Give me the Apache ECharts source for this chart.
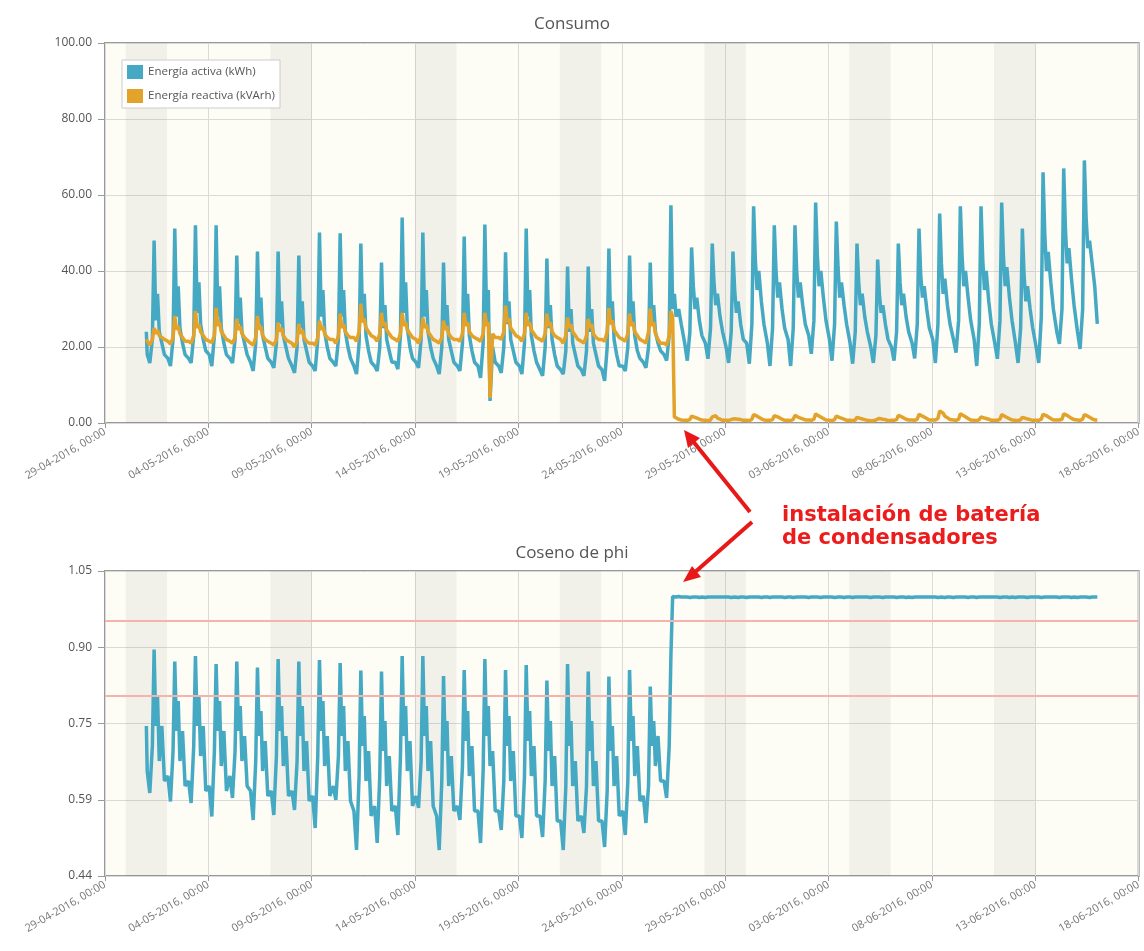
<!DOCTYPE html>
<html>
<head>
<meta charset="utf-8">
<script src="https://cdn.jsdelivr.net/npm/echarts@6/dist/echarts.min.js"></script>
<style>html,body{margin:0;padding:0;background:#fff;}#c{width:1144px;height:951px;}</style>
</head>
<body>
<div id="c"></div>
<script>
// ---------- DATA ----------
const X_LABELS = ['29-04-2016, 00:00','04-05-2016, 00:00','09-05-2016, 00:00','14-05-2016, 00:00','19-05-2016, 00:00','24-05-2016, 00:00','29-05-2016, 00:00','03-06-2016, 00:00','08-06-2016, 00:00','13-06-2016, 00:00','18-06-2016, 00:00'];
const COS_LABELS = ['0.44','0.59','0.75','0.90','1.05'];
// weekend (Sat+Sun) shaded bands, start dates
const WEEKENDS = ['2016-04-30','2016-05-07','2016-05-14','2016-05-21','2016-05-28','2016-06-04','2016-06-11'];
// one row per day, 01-05-2016 .. 15-06-2016, readings at these hours of the day
const HOURS = [1, 4, 7, 9, 11, 13, 15, 18, 21];
const FIRST_DAY = '2016-05-01';
const LAST_POINT = '2016-06-16';

// Energía activa (kWh)
const activaStart = 24.0, activaEnd = 26.1;
const activa = [
 [18,15.8,22,48.0,27,34,24,21,18],[17,15.0,22,51.2,28,36,25,21,18],[17,15.8,23,52.0,29,37,26,22,19],[18,15.0,23,52.0,28,36,25,21,18],
 [17,15.8,22,44.1,26,33,24,21,18],[16,13.7,21,45.1,26,33,23,20,17],[16,14.5,21,45.1,26,32,23,20,17],[15,13.2,20,44.1,25,32,22,19,16],
 [15,13.7,22,50.1,28,35,24,20,17],[16,15.0,22,49.9,28,35,24,20,17],[15,12.9,21,47.2,27,34,23,19,16],[15,13.7,20,42.2,25,31,22,19,16],
 [16,14.2,23,54.1,29,37,25,20,17],[16,14.5,22,50.1,28,35,24,20,17],[15,12.9,20,42.2,25,31,22,19,16],[15,13.7,21,49.1,27,34,23,19,16],
 [15,11.9,21,52.2,28,35,5.8,20,16],[15,13.2,20,44.9,26,32,22,19,16],[15,12.9,21,51.2,28,35,23,19,16],[14,12.4,20,43.3,25,31,22,18,15],
 [14,12.9,19,41.2,24,30,21,18,15],[14,12.4,19,41.2,24,30,21,18,15],[14,11.1,20,45.9,26,32,22,18,15],[15,13.7,20,44.1,26,32,23,19,17],
 [16,14.5,20,42.2,26,31,24,21,19],[18,16.4,23,57.3,30,34,28,30,26],[21,16.4,24,46.2,36,30,33,27,23],[21,16.9,25,47.2,37,31,34,28,24],
 [20,15.8,24,45.1,35,29,32,26,22],[21,15.6,26,57.0,43,35,40,32,26],[21,15.0,25,52.0,40,33,37,30,25],[22,15.0,25,52.0,40,33,37,31,26],
 [23,18.2,27,58.0,44,36,40,33,27],[22,16.4,26,53.0,41,33,37,31,26],[21,15.6,24,47.2,37,31,34,28,24],[20,15.8,23,43.0,34,29,31,26,22],
 [20,16.4,24,47.2,37,31,34,28,24],[21,17.0,26,51.2,39,33,36,30,25],[22,15.8,26,55.1,42,34,38,31,26],[22,18.5,27,57.0,44,36,40,33,27],
 [22,15.0,26,57.0,43,35,40,32,26],[21,16.9,27,58.0,44,36,41,33,27],[21,15.8,25,51.2,39,32,36,30,25],[20,15.8,28,66.0,50,40,45,37,30],
 [24,20.8,30,67.0,51,42,46,38,31],[24,19.5,30,69.1,54,46,48,42,36]
];
// Energía reactiva (kVArh)
const reactivaStart = 22.0, reactivaEnd = 0.8;
const reactiva = [
 [21.5,20.5,22.0,25.0,23.5,24.5,23.0,22.5,22.0],[21.5,20.8,22.5,28.2,24.5,25.5,23.5,22.5,21.5],[21.5,21.0,23.0,29.5,25.0,26.0,24.0,23.0,22.0],[21.5,21.2,23.0,30.3,25.5,26.5,24.0,23.0,22.0],
 [21.5,21.0,22.5,27.4,24.5,25.5,23.5,22.5,21.8],[21.0,20.5,22.5,28.2,24.5,25.5,23.0,22.0,21.5],[21.0,20.5,22.0,26.4,24.0,25.0,23.0,22.0,21.5],[21.0,20.0,21.5,26.1,23.5,24.5,22.5,21.5,21.0],
 [21.0,20.5,22.5,26.9,24.5,25.5,23.5,22.5,22.0],[22.0,21.0,23.0,28.8,25.0,26.0,24.0,23.0,22.5],[22.5,21.5,24.0,31.4,26.5,27.5,25.0,24.0,23.0],[22.5,21.5,23.5,29.0,25.5,26.5,24.5,23.5,22.5],
 [22.0,21.5,23.5,29.0,25.5,26.5,24.5,23.5,22.5],[22.0,21.0,23.0,27.7,25.0,26.0,24.0,23.0,22.0],[21.5,21.0,22.5,26.9,24.5,25.5,23.5,22.5,22.0],[22.0,21.5,23.5,29.0,25.5,26.5,24.0,23.0,22.5],
 [22.0,21.5,23.5,29.0,25.5,26.5,6.6,23.5,22.5],[22.5,22.0,24.0,30.9,26.5,27.5,25.0,24.0,23.0],[22.5,21.5,23.5,29.0,25.5,26.5,24.5,23.5,22.5],[22.0,21.5,23.5,28.8,25.5,26.5,24.0,23.0,22.5],
 [22.0,21.0,23.0,27.7,25.0,26.0,24.0,23.0,22.0],[21.5,21.0,23.0,27.4,25.0,26.0,23.5,22.5,22.0],[22.0,21.5,24.0,30.3,26.0,27.0,24.5,23.5,22.5],[22.0,21.5,23.5,28.8,25.5,26.5,24.0,23.0,22.0],
 [21.5,21.0,24.0,30.1,25.5,26.5,23.5,22.0,21.0],[21.0,20.5,23.0,29.5,28.0,1.6,1.2,1.0,0.8],[0.7,0.7,0.9,1.8,1.4,1.5,1.2,1.0,0.8],[0.7,0.6,0.8,1.6,1.7,1.9,1.3,1.0,0.7],
 [0.7,0.7,0.9,1.4,1.1,1.2,1.0,0.9,0.7],[0.7,0.6,1.0,2.2,1.9,1.8,1.4,1.1,0.8],[0.7,0.7,0.9,1.9,1.5,1.6,1.3,1.0,0.7],[0.7,0.6,1.0,2.0,1.6,1.5,1.3,1.1,0.8],
 [0.8,0.7,1.0,2.4,2.0,1.8,1.5,1.2,0.8],[0.7,0.6,0.9,1.8,1.5,1.4,1.2,1.0,0.7],[0.7,0.6,0.8,1.5,1.3,1.2,1.0,0.9,0.7],[0.6,0.6,0.8,1.3,1.2,1.1,1.0,0.9,0.6],
 [0.7,0.7,0.9,2.0,1.7,1.6,1.3,1.0,0.8],[0.8,0.7,1.0,2.3,2.0,1.8,1.5,1.2,0.8],[0.8,0.8,1.2,3.2,2.8,2.6,1.8,1.4,0.9],[0.8,0.7,1.0,2.4,2.0,1.9,1.5,1.2,0.8],
 [0.7,0.6,0.9,1.6,1.4,1.3,1.1,1.0,0.7],[0.7,0.7,1.0,2.2,1.9,1.7,1.4,1.1,0.8],[0.7,0.6,0.9,1.5,1.3,1.2,1.0,0.9,0.7],[0.7,0.7,1.0,2.3,2.0,1.9,1.5,1.2,0.8],
 [0.8,0.8,1.0,2.4,2.1,2.0,1.5,1.2,0.9],[0.8,0.7,1.0,2.2,1.9,1.8,1.4,1.1,0.8]
];
// Coseno de phi
const cosStart = 0.74, cosEnd = 0.998;
const cosphi = [
 [0.65,0.606,0.70,0.893,0.74,0.80,0.67,0.74,0.63],[0.64,0.589,0.69,0.869,0.73,0.79,0.67,0.73,0.62],[0.63,0.586,0.70,0.880,0.74,0.80,0.68,0.74,0.61],[0.62,0.559,0.69,0.864,0.73,0.79,0.66,0.73,0.61],
 [0.64,0.596,0.69,0.869,0.73,0.78,0.67,0.72,0.62],[0.61,0.552,0.67,0.857,0.72,0.77,0.65,0.71,0.60],[0.61,0.562,0.68,0.874,0.73,0.78,0.66,0.72,0.60],[0.61,0.572,0.67,0.869,0.72,0.78,0.65,0.71,0.59],
 [0.60,0.536,0.68,0.872,0.73,0.79,0.66,0.72,0.60],[0.62,0.592,0.68,0.866,0.72,0.78,0.65,0.71,0.59],[0.57,0.492,0.64,0.851,0.70,0.76,0.63,0.69,0.56],[0.58,0.506,0.64,0.849,0.69,0.75,0.62,0.68,0.57],
 [0.58,0.522,0.68,0.880,0.72,0.78,0.65,0.71,0.58],[0.60,0.576,0.67,0.880,0.72,0.78,0.65,0.71,0.58],[0.56,0.492,0.63,0.840,0.69,0.75,0.62,0.68,0.57],[0.58,0.552,0.66,0.852,0.71,0.77,0.64,0.70,0.57],
 [0.57,0.506,0.65,0.874,0.72,0.78,0.66,0.69,0.57],[0.57,0.532,0.63,0.852,0.70,0.76,0.63,0.69,0.56],[0.56,0.516,0.64,0.862,0.71,0.77,0.64,0.70,0.56],[0.56,0.518,0.63,0.831,0.69,0.75,0.62,0.68,0.55],
 [0.55,0.492,0.62,0.864,0.70,0.75,0.62,0.67,0.55],[0.56,0.526,0.62,0.849,0.69,0.75,0.62,0.67,0.55],[0.55,0.498,0.61,0.839,0.69,0.74,0.62,0.68,0.56],[0.57,0.522,0.63,0.852,0.71,0.76,0.64,0.70,0.59],
 [0.60,0.546,0.62,0.819,0.70,0.75,0.66,0.72,0.63],[0.63,0.596,0.70,0.882,0.999,0.998,0.998,0.999,0.998],
 [0.998,0.998,0.997,0.999,0.998,0.998,0.998,0.997,0.998],[0.997,0.998,0.998,0.999,0.998,0.997,0.998,0.998,0.998],
 [0.998,0.998,0.997,0.998,0.998,0.998,0.997,0.998,0.998],[0.997,0.998,0.998,0.999,0.998,0.998,0.998,0.997,0.998],
 [0.998,0.997,0.998,0.999,0.998,0.998,0.998,0.998,0.997],[0.998,0.998,0.997,0.998,0.998,0.997,0.998,0.998,0.998],
 [0.997,0.998,0.998,0.999,0.998,0.998,0.997,0.998,0.998],[0.998,0.998,0.997,0.998,0.998,0.998,0.998,0.997,0.998],
 [0.998,0.997,0.998,0.999,0.998,0.997,0.998,0.998,0.998],[0.997,0.998,0.998,0.998,0.998,0.998,0.997,0.998,0.998],
 [0.998,0.998,0.997,0.999,0.998,0.998,0.998,0.997,0.998],[0.997,0.998,0.998,0.999,0.998,0.997,0.998,0.998,0.998],
 [0.998,0.998,0.997,0.998,0.998,0.998,0.997,0.998,0.998],[0.997,0.998,0.998,0.999,0.998,0.998,0.998,0.997,0.998],
 [0.998,0.997,0.998,0.999,0.998,0.997,0.998,0.998,0.998],[0.998,0.998,0.997,0.998,0.998,0.998,0.998,0.997,0.998],
 [0.997,0.998,0.998,0.999,0.998,0.998,0.997,0.998,0.998],[0.998,0.998,0.997,0.998,0.998,0.997,0.998,0.998,0.998],
 [0.998,0.997,0.998,0.999,0.998,0.998,0.998,0.997,0.998],[0.997,0.998,0.998,0.999,0.998,0.998,0.997,0.998,0.998]
];
const COS_LIMITS = [0.95, 0.80];

// ---------- BUILD ----------
const DAY = 86400000, HOUR = 3600000;
const T0 = Date.parse('2016-04-29T00:00:00Z');
const TMAX = Date.parse('2016-06-18T00:00:00Z');
const D0 = Date.parse(FIRST_DAY + 'T00:00:00Z');
const DEND = Date.parse(LAST_POINT + 'T00:00:00Z');
function build(rows, start, end) {
  const out = [[D0, start]];
  rows.forEach((r, i) => HOURS.forEach((h, j) => out.push([D0 + i * DAY + h * HOUR, r[j]])));
  out.push([DEND, end]);
  return out;
}
const bands = WEEKENDS.map(d => { const s = Date.parse(d + 'T00:00:00Z'); return [{xAxis: s}, {xAxis: s + 2 * DAY}]; });

const TEAL = '#45a9c3', ORANGE = '#e3a22a';
const FONT = '"Open Sans", "DejaVu Sans", sans-serif';

function xAxisCfg(gi) {
  return {
    type: 'value', gridIndex: gi, min: T0, max: TMAX, interval: 5 * DAY,
    axisLine: {show: false},
    axisTick: {show: true, length: 5, lineStyle: {color: '#999'}},
    splitLine: {show: true, lineStyle: {color: '#dadada', width: 1}},
    axisLabel: {rotate: 30, fontSize: 11, color: '#777', fontFamily: FONT, margin: 8,
      formatter: v => X_LABELS[Math.round((v - T0) / (5 * DAY))] || ''}
  };
}
function yAxisCfg(gi, min, max, interval, fmt) {
  return {type: 'value', gridIndex: gi, min: min, max: max, interval: interval,
    axisLine: {show: false}, axisTick: {show: true, length: 7, lineStyle: {color: '#999'}},
    splitLine: {lineStyle: {color: '#dadada'}},
    axisLabel: {fontSize: 12, color: '#555', fontFamily: FONT, margin: 13, formatter: fmt}};
}
const chart = echarts.init(document.getElementById('c'), null, {renderer: 'canvas'});
chart.setOption({
  animation: false,
  backgroundColor: '#ffffff',
  title: [
    {text: 'Consumo', left: 'center', top: 11, textStyle: {fontSize: 17, fontWeight: 'normal', color: '#555', fontFamily: FONT}},
    {text: 'Coseno de phi', left: 'center', top: 540, textStyle: {fontSize: 17, fontWeight: 'normal', color: '#555', fontFamily: FONT}}
  ],
  legend: {
    left: 122, top: 60, orient: 'vertical', icon: 'rect', itemWidth: 16, itemHeight: 14, itemGap: 10,
    padding: [5, 5, 5, 5], borderColor: '#ccc', borderWidth: 1, backgroundColor: '#fff',
    textStyle: {fontSize: 11.5, color: '#555', fontFamily: FONT},
    data: ['Energía activa (kWh)', 'Energía reactiva (kVArh)']
  },
  grid: [
    {left: 105, right: 4, top: 43, height: 380, show: true, backgroundColor: '#fdfcf5', borderColor: '#999', borderWidth: 2},
    {left: 105, right: 4, top: 571, height: 305, show: true, backgroundColor: '#fdfcf5', borderColor: '#999', borderWidth: 2}
  ],
  xAxis: [xAxisCfg(0), xAxisCfg(1)],
  yAxis: [
    yAxisCfg(0, 0, 100, 20, v => v.toFixed(2)),
    yAxisCfg(1, 0.44, 1.05, 0.1525, v => COS_LABELS[Math.round((v - 0.44) / 0.1525)] || '')
  ],
  series: [
    {type: 'line', xAxisIndex: 0, yAxisIndex: 0, data: [], z: 1, silent: true,
     markArea: {silent: true, itemStyle: {color: 'rgba(60,50,30,0.055)'}, data: bands}},
    {type: 'line', xAxisIndex: 1, yAxisIndex: 1, data: [], z: 1, silent: true,
     markArea: {silent: true, itemStyle: {color: 'rgba(60,50,30,0.055)'}, data: bands}},
    {name: 'Energía activa (kWh)', type: 'line', xAxisIndex: 0, yAxisIndex: 0, z: 3,
     data: build(activa, activaStart, activaEnd), showSymbol: false, color: TEAL,
     lineStyle: {width: 3.5, color: TEAL}},
    {name: 'Energía reactiva (kVArh)', type: 'line', xAxisIndex: 0, yAxisIndex: 0, z: 4,
     data: build(reactiva, reactivaStart, reactivaEnd), showSymbol: false, color: ORANGE,
     lineStyle: {width: 3.5, color: ORANGE}},
    {name: 'Coseno de phi', type: 'line', xAxisIndex: 1, yAxisIndex: 1, z: 3,
     data: build(cosphi, cosStart, cosEnd), showSymbol: false, color: TEAL,
     lineStyle: {width: 3.5, color: TEAL},
     markLine: {silent: true, symbol: 'none', label: {show: false},
       lineStyle: {color: '#f4b3ac', width: 2, type: 'solid'},
       data: COS_LIMITS.map(v => ({yAxis: v}))}}
  ],
  graphic: [
    {type: 'text', left: 782, top: 504, z: 100,
     style: {text: 'instalación de batería\nde condensadores', fill: '#ec1c1c',
       font: 'bold 21px "DejaVu Sans"', lineHeight: 23}},
    {type: 'line', z: 100, shape: {x1: 750, y1: 512, x2: 692, y2: 440}, style: {stroke: '#e81818', lineWidth: 4}},
    {type: 'polygon', z: 100, shape: {points: [[684, 430], [700, 438], [688, 448]]}, style: {fill: '#e81818'}},
    {type: 'line', z: 100, shape: {x1: 752, y1: 522, x2: 694, y2: 573}, style: {stroke: '#e81818', lineWidth: 4}},
    {type: 'polygon', z: 100, shape: {points: [[683, 582], [701, 577], [692, 566]]}, style: {fill: '#e81818'}}
  ]
});
</script>
</body>
</html>
